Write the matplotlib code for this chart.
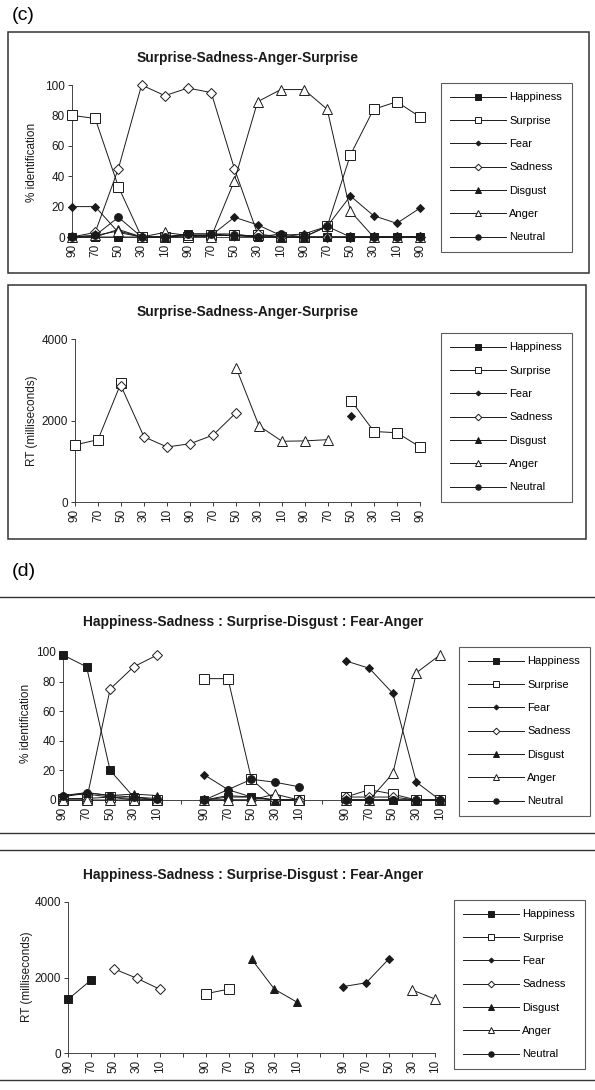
import matplotlib
matplotlib.use("Agg")
import matplotlib.pyplot as plt
import numpy as np
from matplotlib.lines import Line2D
from matplotlib.patches import Rectangle

plt.rcParams["font.family"] = ["Liberation Sans", "DejaVu Sans"]

nan = np.nan
W, H = 595, 1090
INK = "#1a1a1a"

EMOTIONS = ["Happiness", "Surprise", "Fear", "Sadness", "Disgust", "Anger", "Neutral"]

# ---------------------------------------------------------------
# Panel (c): Surprise-Sadness-Anger-Surprise continuum
# ---------------------------------------------------------------
c_steps = ["90", "70", "50", "30", "10"] * 3 + ["90"]

c_id_happiness = [0, 0, 0, 0, 0, 2, 2, 2, 0, 0, 0, 0, 0, 0, 0, 0]
c_id_surprise = [80, 78, 33, 0, 0, 0, 1, 1, 1, 0, 0, 7, 54, 84, 89, 79]
c_id_fear = [20, 20, 3, 0, 0, 1, 1, 13, 8, 1, 2, 7, 27, 14, 9, 19]
c_id_sadness = [0, 3, 45, 100, 93, 98, 95, 45, 2, 0, 0, 0, 0, 0, 0, 0]
c_id_disgust = [0, 0, 5, 0, 0, 1, 1, 1, 0, 0, 0, 0, 0, 0, 0, 0]
c_id_anger = [0, 1, 4, 0, 3, 1, 0, 37, 89, 97, 97, 84, 17, 0, 0, 0]
c_id_neutral = [0, 1, 13, 0, 0, 2, 2, 1, 0, 2, 0, 7, 0, 0, 0, 0]

c_rt_happiness = [nan] * 16
c_rt_surprise = [1400, 1530, 2920, nan, nan, nan, nan, nan, nan, nan, nan, nan,
                 2490, 1730, 1700, 1350]
c_rt_fear = [nan] * 12 + [2110, nan, nan, nan]
c_rt_sadness = [nan, nan, 2850, 1600, 1350, 1430, 1640, 2190,
                nan, nan, nan, nan, nan, nan, nan, nan]
c_rt_disgust = [nan] * 16
c_rt_anger = [nan] * 7 + [3300, 1870, 1490, 1500, 1530] + [nan] * 4
c_rt_neutral = [nan] * 16

# ---------------------------------------------------------------
# Panel (d): Happiness-Sadness : Surprise-Disgust : Fear-Anger
# ---------------------------------------------------------------
d_steps = ["90", "70", "50", "30", "10", "",
           "90", "70", "50", "30", "10", "",
           "90", "70", "50", "30", "10"]

d_id_happiness = [98, 90, 20, 2, 0, nan, 0, 2, 2, 0, 0, nan, 0, 0, 0, 0, 0]
d_id_surprise = [1, 1, 2, 1, 0, nan, 82, 82, 14, 0, 0, nan, 2, 7, 4, 0, 0]
d_id_fear = [3, 4, 2, 0, 0, nan, 17, 7, 2, 0, 0, nan, 94, 89, 72, 12, 0]
d_id_sadness = [0, 0, 75, 90, 98, nan, 0, 0, 0, 0, 0, nan, 2, 2, 2, 0, 0]
d_id_disgust = [2, 5, 3, 4, 3, nan, 0, 3, 2, 0, 0, nan, 0, 0, 0, 0, 0]
d_id_anger = [0, 0, 0, 0, 0, nan, 0, 0, 0, 4, 0, nan, 0, 0, 18, 86, 98]
d_id_neutral = [3, 5, 3, 2, 1, nan, 0, 7, 14, 12, 9, nan, 0, 0, 0, 0, 0]

d_rt_happiness = [1420, 1930] + [nan] * 15
d_rt_surprise = [nan] * 6 + [1570, 1690] + [nan] * 9
d_rt_fear = [nan] * 12 + [1760, 1860, 2500, nan, nan]
d_rt_sadness = [nan, nan, 2230, 1980, 1690] + [nan] * 12
d_rt_disgust = [nan] * 8 + [2490, 1690, 1340] + [nan] * 6
d_rt_anger = [nan] * 15 + [1670, 1430]
d_rt_neutral = [nan] * 17

# marker, face colour, size
STYLES = {
    "Happiness": ("s", INK, 5.4),
    "Surprise": ("s", "white", 6.8),
    "Fear": ("D", INK, 3.6),
    "Sadness": ("D", "white", 4.8),
    "Disgust": ("^", INK, 5.6),
    "Anger": ("^", "white", 7.0),
    "Neutral": ("o", INK, 5.6),
}


def fig_rect(left, top, right, bottom):
    """Pixel box (from the top-left corner) -> figure fraction rect."""
    return [left / W, 1 - bottom / H, (right - left) / W, (bottom - top) / H]


def fx(x):
    return x / W


def fy(y):
    return 1 - y / H


def draw_panel(fig, box, steps, series, yticks, ylabel, title,
               title_xy, ylabel_xy, legend_xy):
    """Draw one line chart with the shared Excel-like styling."""
    ax = fig.add_axes(fig_rect(*box))
    x = np.arange(len(steps))
    handles = []
    for name in EMOTIONS:
        marker, face, size = STYLES[name]
        (ln,) = ax.plot(x, series[name], color=INK, lw=0.7, marker=marker,
                        mfc=face, mec=INK, ms=size, mew=0.7,
                        clip_on=False, label=name, zorder=3)
        handles.append(ln)

    ax.set_xlim(0, len(steps) - 1)
    ax.set_ylim(yticks[0], yticks[-1])
    ax.set_yticks(yticks)
    ax.set_xticks(x)
    ax.set_xticklabels(steps, rotation=90, fontsize=8.5)
    ax.tick_params(axis="y", labelsize=8.5, length=3, width=0.6, pad=2,
                   colors=INK)
    ax.tick_params(axis="x", length=3, width=0.6, pad=2, colors=INK)
    for side in ("top", "right"):
        ax.spines[side].set_visible(False)
    for side in ("left", "bottom"):
        ax.spines[side].set_linewidth(0.7)
        ax.spines[side].set_color("#444444")

    fig.text(fx(title_xy[0]), fy(title_xy[1]), title, ha="center",
             va="center", fontsize=9.9, fontweight="bold", color=INK)
    fig.text(fx(ylabel_xy[0]), fy(ylabel_xy[1]), ylabel, ha="center",
             va="center", rotation=90, fontsize=8.5, color=INK)

    leg = ax.legend(handles=handles, loc="upper left",
                    bbox_to_anchor=(fx(legend_xy[0]), fy(legend_xy[1])),
                    bbox_transform=fig.transFigure, fontsize=8,
                    frameon=True, fancybox=False, edgecolor="#333333",
                    borderpad=0.85, labelspacing=1.2, handlelength=5.0,
                    handletextpad=0.3, numpoints=1, borderaxespad=0,
                    markerscale=0.7)
    leg.get_frame().set_linewidth(0.8)
    return ax


fig = plt.figure(figsize=(W / 100, H / 100), dpi=100)

fig.text(fx(12), fy(15), "(c)", fontsize=14, ha="left", va="center")
fig.text(fx(12), fy(572), "(d)", fontsize=14, ha="left", va="center")

# panel frames for (c), rules for (d)
for left, top, right, bottom in [(8, 32, 589, 273), (8, 285, 586, 539)]:
    fig.add_artist(Rectangle((fx(left), fy(bottom)), (right - left) / W,
                             (bottom - top) / H, transform=fig.transFigure,
                             fill=False, lw=1.1, ec="#333333"))
for y in (597, 833, 850, 1080):
    fig.add_artist(Line2D([0, 1], [fy(y), fy(y)], transform=fig.transFigure,
                          lw=1.0, color="#333333"))

draw_panel(
    fig, (72, 85, 420, 237), c_steps,
    dict(zip(EMOTIONS, [c_id_happiness, c_id_surprise, c_id_fear,
                        c_id_sadness, c_id_disgust, c_id_anger,
                        c_id_neutral])),
    [0, 20, 40, 60, 80, 100], "% identification",
    "Surprise-Sadness-Anger-Surprise", (248, 58), (32, 162), (441, 83))

draw_panel(
    fig, (75, 339, 420, 502), c_steps,
    dict(zip(EMOTIONS, [c_rt_happiness, c_rt_surprise, c_rt_fear,
                        c_rt_sadness, c_rt_disgust, c_rt_anger,
                        c_rt_neutral])),
    [0, 2000, 4000], "RT (milliseconds)",
    "Surprise-Sadness-Anger-Surprise", (248, 312), (32, 421), (441, 333))

draw_panel(
    fig, (63, 652, 440, 800), d_steps,
    dict(zip(EMOTIONS, [d_id_happiness, d_id_surprise, d_id_fear,
                        d_id_sadness, d_id_disgust, d_id_anger,
                        d_id_neutral])),
    [0, 20, 40, 60, 80, 100], "% identification",
    "Happiness-Sadness : Surprise-Disgust : Fear-Anger", (253, 622),
    (26, 723), (459, 647))

draw_panel(
    fig, (68, 902, 435, 1053), d_steps,
    dict(zip(EMOTIONS, [d_rt_happiness, d_rt_surprise, d_rt_fear,
                        d_rt_sadness, d_rt_disgust, d_rt_anger,
                        d_rt_neutral])),
    [0, 2000, 4000], "RT (milliseconds)",
    "Happiness-Sadness : Surprise-Disgust : Fear-Anger", (253, 875),
    (27, 977), (454, 900))

fig.savefig("out.png", dpi=100, facecolor="white")
